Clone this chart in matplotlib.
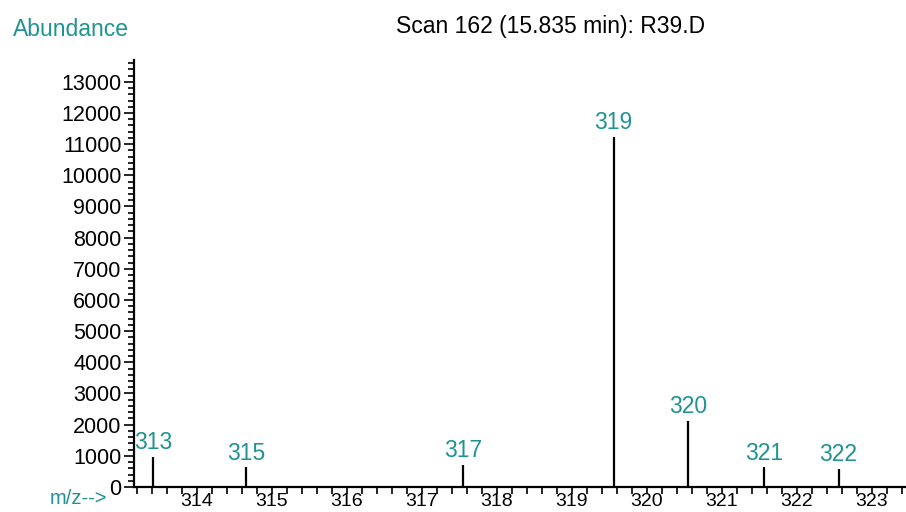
import numpy as np
import matplotlib
matplotlib.use("Agg")
import matplotlib.pyplot as plt
from matplotlib.ticker import MultipleLocator

# peak positions (m/z), heights and the labels printed above them
peak_mz = [313.42, 314.66, 317.55, 319.56, 320.55, 321.57, 322.56]
peak_abund = [970, 630, 710, 11230, 2130, 630, 570]
peak_labels = ["313", "315", "317", "319", "320", "321", "322"]

x_ticks = [314, 315, 316, 317, 318, 319, 320, 321, 322, 323]
y_ticks = list(range(0, 14000, 1000))

TEAL = "#1f9393"
FONT = "Liberation Sans"
FS_TICK = 15.5
FS_TEXT = 16.5

plt.rcParams["font.family"] = [FONT, "DejaVu Sans"]

fig = plt.figure(figsize=(9.06, 5.12), dpi=100)
# axes: y axis at x=134 px, baseline at y=487 px, top of axis at y=60 px
ax = fig.add_axes([134 / 906, 25 / 512, 1 - 134 / 906, 427 / 512])

ax.vlines(peak_mz, 0, peak_abund, colors="black", linewidth=1.6)
for mz, h, lab in zip(peak_mz, peak_abund, peak_labels):
    ax.annotate(lab, (mz, h), xytext=(0, 2), textcoords="offset points",
                ha="center", va="bottom", color=TEAL, fontsize=FS_TEXT)

ax.set_xlim(313.16, 323.46)
ax.set_ylim(0, 13700)

ax.set_xticks(x_ticks)
ax.set_xticklabels([str(t) for t in x_ticks])
ax.xaxis.set_minor_locator(MultipleLocator(0.2))
ax.set_yticks(y_ticks)
ax.set_yticklabels([str(t) for t in y_ticks])
ax.yaxis.set_minor_locator(MultipleLocator(200))

# x labels kept a touch smaller so they sit inside the bottom edge
ax.tick_params(axis="x", which="both", direction="out", length=5, width=1.2,
               labelsize=14, pad=-1)
ax.tick_params(axis="y", which="major", direction="out", length=7, width=1.2,
               labelsize=FS_TICK, pad=2)
ax.tick_params(axis="y", which="minor", direction="out", length=4, width=1.2)

for side in ("top", "right"):
    ax.spines[side].set_visible(False)
for side in ("left", "bottom"):
    ax.spines[side].set_linewidth(1.6)

fig.text(13 / 906, 1 - 30 / 512, "Abundance", color=TEAL, fontsize=FS_TEXT,
         ha="left", va="center")
fig.text(551 / 906, 1 - 27 / 512, "Scan 162 (15.835 min): R39.D", color="black",
         fontsize=FS_TEXT, ha="center", va="center")
fig.text(50 / 906, 1 - 498 / 512, "m/z-->", color=TEAL, fontsize=14.5,
         ha="left", va="center")

fig.savefig("out.png", dpi=100)
